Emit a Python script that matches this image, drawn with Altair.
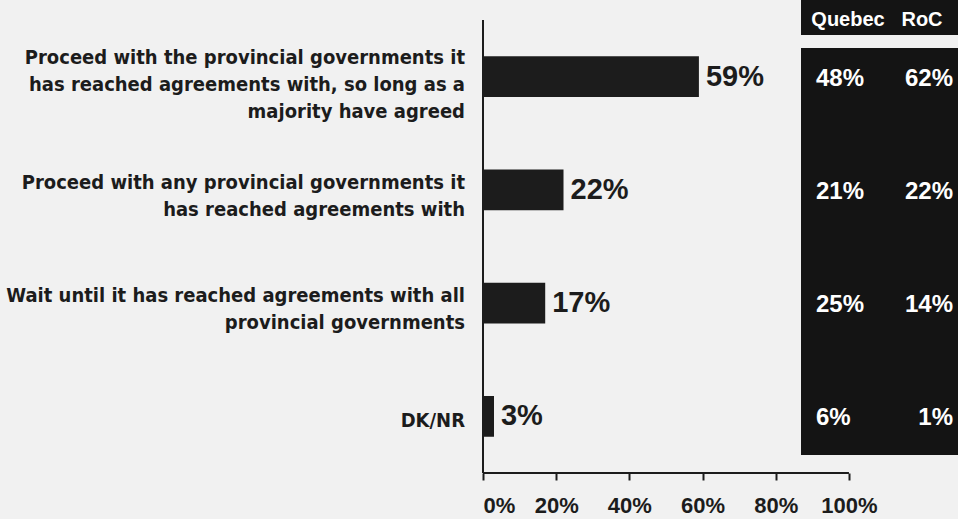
import altair as alt
import pandas as pd

# Survey answers, total share and regional breakdown
categories = [
    "Proceed with the provincial governments it\nhas reached agreements with, so long as a\nmajority have agreed",
    "Proceed with any provincial governments it\nhas reached agreements with",
    "Wait until it has reached agreements with all\nprovincial governments",
    "DK/NR",
]
total = [59, 22, 17, 3]
quebec = [48, 21, 25, 6]
roc = [62, 22, 14, 1]
tick_values = [0, 20, 40, 60, 80, 100]
region_headers = ["Quebec", "RoC"]

df = pd.DataFrame({"cat": categories, "total": total, "quebec": quebec, "roc": roc})
df["total_lbl"] = df["total"].astype(str) + "%"
df["quebec_lbl"] = df["quebec"].astype(str) + "%"
df["roc_lbl"] = df["roc"].astype(str) + "%"

# Layout
W, H = 475, 453
XMAX = 129.8          # x scale runs past 100% so the regional panel fits on the right
PANEL_X0 = 86.9
INK = "#1c1c1c"
PANEL = "#141414"
CONDENSED = "DejaVu Sans Condensed, sans-serif"
SANS = "Liberation Sans, Arial, sans-serif"

x_scale = alt.Scale(domain=[0, XMAX], nice=False, zero=True)
y_scale = alt.Scale(domain=categories, paddingInner=0.64, paddingOuter=0.32)

base = alt.Chart(df)

bars = base.mark_bar(color=INK).encode(
    x=alt.X(
        "total:Q",
        scale=x_scale,
        title=None,
        axis=alt.Axis(
            values=tick_values,
            labelExpr="datum.value + '%'",
            domain=False,
            grid=False,
            tickSize=7,
            tickWidth=2,
            tickColor=INK,
            labelFontSize=22,
            labelFontWeight="bold",
            labelFont=SANS,
            labelColor=INK,
            labelPadding=15,
            title=None,
        ),
    ),
    y=alt.Y("cat:N", scale=y_scale, axis=None),
)

bar_labels = base.mark_text(
    align="left", baseline="middle", dx=7, fontSize=29, fontWeight="bold",
    font=SANS, color=INK,
).encode(x=alt.X("total:Q", title=None), y="cat:N", text="total_lbl:N")

# Multi-line answer labels; the offset is measured from the top of each bar's
# band, so the block is pulled back to sit around the bar
cat_labels = (
    base.transform_calculate(
        shift="(length(split(datum.cat, '\\n')) - 1) * -11.5 + 25"
    )
    .mark_text(
        align="right", baseline="middle", lineBreak="\n", lineHeight=27,
        fontSize=20, fontWeight="bold", font=CONDENSED, color=INK,
    )
    .encode(
        x=alt.value(-18),
        y="cat:N",
        yOffset=alt.YOffset("shift:Q", scale=None),
        text="cat:N",
    )
)

axis_df = pd.DataFrame({"a": [0], "b": [100]})
x_line = alt.Chart(axis_df).mark_rule(color=INK, strokeWidth=2).encode(
    x=alt.X("a:Q", title=None), x2="b:Q", y=alt.value(H)
)
y_line = alt.Chart(axis_df).mark_rule(color=INK, strokeWidth=2).encode(
    x=alt.value(0), y=alt.value(0), y2=alt.value(H)
)

panel_df = pd.DataFrame({"x0": [PANEL_X0], "x1": [XMAX]})
panel_body = alt.Chart(panel_df).mark_rect(color=PANEL).encode(
    x=alt.X("x0:Q", title=None), x2="x1:Q", y=alt.value(28), y2=alt.value(435)
)
panel_head = alt.Chart(panel_df).mark_rect(color=PANEL).encode(
    x=alt.X("x0:Q", title=None), x2="x1:Q", y=alt.value(-20), y2=alt.value(15)
)

head_q = alt.Chart(panel_df).mark_text(
    text=region_headers[0], align="center", baseline="middle", fontSize=20,
    fontWeight="bold", font=SANS, color="white",
).encode(x=alt.value(365), y=alt.value(0))
head_r = alt.Chart(panel_df).mark_text(
    text=region_headers[1], align="center", baseline="middle", fontSize=20,
    fontWeight="bold", font=SANS, color="white",
).encode(x=alt.value(439), y=alt.value(0))

q_vals = base.mark_text(
    align="left", baseline="middle", fontSize=24, fontWeight="bold",
    font=SANS, color="white", dy=2,
).encode(x=alt.value(333), y="cat:N", text="quebec_lbl:N")
r_vals = base.mark_text(
    align="right", baseline="middle", fontSize=24, fontWeight="bold",
    font=SANS, color="white", dy=2,
).encode(x=alt.value(470), y="cat:N", text="roc_lbl:N")

chart = (
    alt.layer(
        panel_body, panel_head, bars, x_line, y_line, bar_labels, cat_labels,
        head_q, head_r, q_vals, r_vals,
    )
    .properties(
        width=W,
        height=H,
        autosize=alt.AutoSizeParams(type="none"),
        padding={"left": 483, "top": 20, "right": 0, "bottom": 46},
        background="#f1f1f1",
    )
    .configure_view(stroke=None)
)

chart.save("out.html", embed_options={"renderer": "svg", "actions": False})
